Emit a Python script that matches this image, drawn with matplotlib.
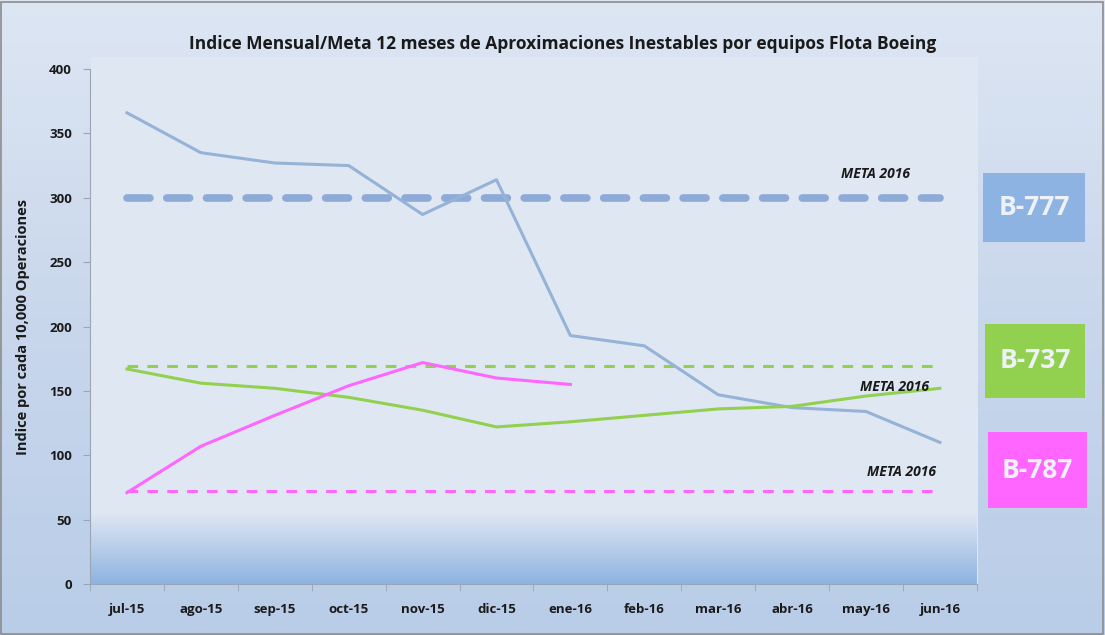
import numpy as np
import matplotlib.pyplot as plt
from matplotlib.patches import Rectangle
from matplotlib.colors import LinearSegmentedColormap

plt.rcParams['font.family'] = ['Open Sans', 'DejaVu Sans']

meses = ['jul-15', 'ago-15', 'sep-15', 'oct-15', 'nov-15', 'dic-15',
         'ene-16', 'feb-16', 'mar-16', 'abr-16', 'may-16', 'jun-16']
b777 = [366, 335, 327, 325, 287, 314, 193, 185, 147, 137, 134, 110]
b737 = [167, 156, 152, 145, 135, 122, 126, 131, 136, 138, 146, 152]
b787 = [71, 107, 131, 154, 172, 160, 155]
meta777 = 300
meta737 = 169
meta787 = 72

c777 = '#95b3d7'
c737 = '#92d050'
c787 = '#ff66ff'

fig = plt.figure(figsize=(11.05, 6.35), dpi=100)
fig.patch.set_facecolor('#cad8ec')

# fondo con degradado de la figura
bg = fig.add_axes([0, 0, 1, 1], zorder=-10)
bg.axis('off')
g = np.linspace(0, 1, 256).reshape(-1, 1)
cm_fig = LinearSegmentedColormap.from_list('f', ['#dde6f3', '#c9d7ec', '#b9cde8'])
bg.imshow(g, aspect='auto', cmap=cm_fig, extent=(0, 1, 0, 1))
bg.set_xlim(0, 1)
bg.set_ylim(0, 1)
bg.add_patch(Rectangle((0.001, 0.002), 0.997, 0.995, fill=False, ec='#8c8c8c', lw=1.2))
bg.add_patch(Rectangle((0.082, 0.08), 0.803, 0.83, fc='#dfe7f3', ec='none'))

ax = fig.add_axes([0.0815, 0.0803, 0.8025, 0.811])
ax.set_facecolor('none')
x = np.arange(len(meses))

# degradado inferior del area de trazado
cm_plot = LinearSegmentedColormap.from_list('p', ['#8db3e2', '#b7cdea', '#dfe7f3'])
grad = np.linspace(0, 1, 256).reshape(-1, 1)
ax.imshow(grad, aspect='auto', cmap=cm_plot, origin='lower',
          extent=(-0.5, 11.5, 0, 55), zorder=0)

ax.plot(x, b777, color=c777, lw=2.2, zorder=3)
ax.plot(x, b737, color=c737, lw=2.2, zorder=3)
ax.plot(x[:len(b787)], b787, color=c787, lw=2.2, zorder=3)

ax.plot([x[0], x[-1]], [meta777, meta777], color='#8eaad6', lw=5.5,
        dashes=(3, 2.2), dash_capstyle='round', zorder=2)
ax.plot([x[0], x[-1]], [meta737, meta737], color=c737, lw=2.2,
        dashes=(3.5, 3), zorder=2)
ax.plot([x[0], x[-1]], [meta787, meta787], color=c787, lw=2.2,
        dashes=(3.5, 3), zorder=2)

fnt = dict(fontsize=10, fontweight='bold', style='italic', color='#1a1a1a', ha='right')
ax.text(10.6, meta777 + 15, 'META 2016', **fnt)
ax.text(10.85, 150, 'META 2016', **fnt)
ax.text(10.95, meta787 + 12, 'META 2016', **fnt)

ax.set_xlim(-0.5, 11.5)
ax.set_ylim(0, 400)
ax.set_yticks(np.arange(0, 401, 50))
ax.set_xticks(x)
ax.set_xticklabels(meses)
ax.set_xticks(np.arange(-0.5, 12, 1), minor=True)
ax.tick_params(axis='x', which='major', length=0, pad=14)
ax.tick_params(axis='x', which='minor', length=5, color='#9aa5b5')
ax.tick_params(axis='y', length=5, color='#9aa5b5', pad=8)
for lab in ax.get_xticklabels() + ax.get_yticklabels():
    lab.set_fontweight('bold')
    lab.set_fontsize(9.5)
    lab.set_color('#1a1a1a')
for s in ['top', 'right']:
    ax.spines[s].set_visible(False)
ax.spines['left'].set_color('#9aa5b5')
ax.spines['bottom'].set_color('#9aa5b5')

ax.set_ylabel('Indice por cada 10,000 Operaciones', fontsize=10.5,
              fontweight='bold', color='#1a1a1a', labelpad=14)
fig.text(0.509, 0.93, 'Indice Mensual/Meta 12 meses de Aproximaciones Inestables por equipos Flota Boeing',
         ha='center', va='center', fontsize=12.5, fontweight='bold', color='#1a1a1a')

# recuadros de equipos
cajas = [('B-777', '#8db3e2', 983, 173, 102, 69),
         ('B-737', '#92d050', 985, 324, 100, 74),
         ('B-787', '#ff66ff', 988, 432, 99, 76)]
for nombre, col, px, py, w, h in cajas:
    fig.patches.append(Rectangle((px / 1105, 1 - (py + h) / 635), w / 1105, h / 635,
                                 transform=fig.transFigure, fc=col, ec='none'))
    fig.text((px + w / 2) / 1105, 1 - (py + h / 2) / 635, nombre, ha='center', va='center',
             fontsize=19, fontweight='bold', color='#eef2f8')

fig.savefig('out.png', dpi=100, facecolor=fig.get_facecolor())
